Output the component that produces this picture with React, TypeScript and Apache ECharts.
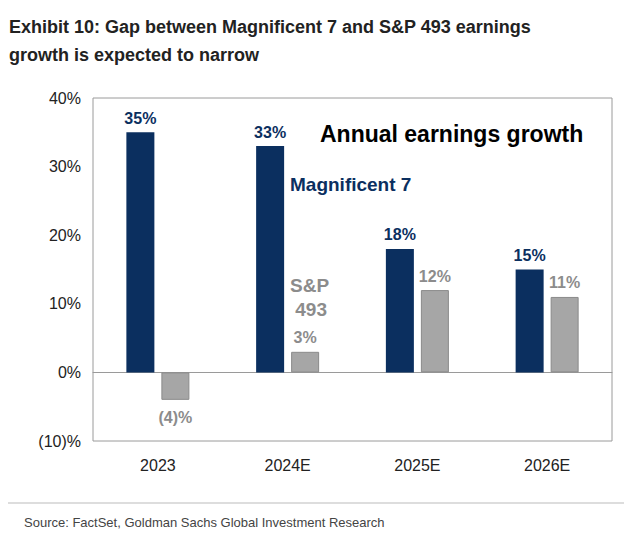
import { useRef, useEffect } from 'react'
import * as echarts from 'echarts'

const categories = ['2023', '2024E', '2025E', '2026E']
const mag7 = [35, 33, 18, 15]
const sp493 = [-4, 3, 12, 11]
const yTicks = [-10, 0, 10, 20, 30, 40]

const NAVY = '#0b2f5f'
const GRAY = '#a6a6a6'
const fmt = (v: number) => (v < 0 ? `(${-v})%` : `${v}%`)

export default function App() {
  const chartRef = useRef<HTMLDivElement>(null)

  useEffect(() => {
    if (!chartRef.current) return
    const chart = echarts.init(chartRef.current, undefined, { renderer: 'svg' })
    chart.setOption({
      animation: false,
      textStyle: { fontFamily: 'Liberation Sans, Arial, sans-serif' },
      title: {
        text: 'Exhibit 10: Gap between Magnificent 7 and S&P 493 earnings\ngrowth is expected to narrow',
        left: 4,
        top: 8,
        textStyle: { fontSize: 18, fontWeight: 'bold', color: '#222', lineHeight: 28 },
      },
      grid: { left: 93, right: 20, top: 98, bottom: 97, show: true, borderColor: '#9a9a9a', borderWidth: 1 },
      xAxis: {
        type: 'category',
        data: categories,
        axisLine: { onZero: true, lineStyle: { color: '#9a9a9a' } },
        axisTick: { show: false },
        axisLabel: { fontSize: 16, color: '#222', margin: 16 },
      },
      yAxis: {
        type: 'value',
        min: yTicks[0],
        max: yTicks[yTicks.length - 1],
        interval: 10,
        splitLine: { show: false },
        axisLine: { show: false },
        axisTick: { show: false },
        axisLabel: { fontSize: 16, color: '#222', formatter: fmt, margin: 12 },
      },
      series: [
        {
          type: 'bar',
          data: mag7,
          barWidth: 28,
          barGap: '25%',
          itemStyle: { color: NAVY },
          label: { show: true, position: 'top', distance: 6, formatter: (p: any) => fmt(p.value), fontSize: 16, fontWeight: 'bold', color: NAVY },
        },
        {
          type: 'bar',
          data: sp493.map((v) => ({
            value: v,
            label: { position: v < 0 ? 'bottom' : 'top', distance: v < 0 ? 10 : 6 },
          })),
          barWidth: 28,
          itemStyle: { color: GRAY, borderColor: '#8a8a8a', borderWidth: 1 },
          label: {
            show: true,
            formatter: (p: any) => fmt(p.value),
            fontSize: 16,
            color: '#8c8c8c',
            fontWeight: 'bold',
          },
        },
      ],
      graphic: [
        { type: 'text', left: 320, top: 122, style: { text: 'Annual earnings growth', fontSize: 23, fontWeight: 'bold', fill: '#000', fontFamily: 'Liberation Sans, Arial' } },
        { type: 'text', left: 290, top: 175, style: { text: 'Magnificent 7', fontSize: 19, fontWeight: 'bold', fill: NAVY, fontFamily: 'Liberation Sans, Arial' } },
        { type: 'text', left: 290, top: 273, style: { text: 'S&P\n 493', fontSize: 19, fontWeight: 'bold', fill: '#8c8c8c', lineHeight: 24, fontFamily: 'Liberation Sans, Arial' } },
        { type: 'line', shape: { x1: 8, y1: 503, x2: 624, y2: 503 }, style: { stroke: '#bbb', lineWidth: 1 } },
        { type: 'text', left: 24, top: 516, style: { text: 'Source: FactSet, Goldman Sachs Global Investment Research', fontSize: 13, fill: '#444', fontFamily: 'Liberation Sans, Arial' } },
      ],
    })
    return () => chart.dispose()
  }, [])

  return (
    <div ref={chartRef} style={{ position: 'fixed', left: 0, top: 0, width: 632, height: 538, background: '#fff' }} />
  )
}
